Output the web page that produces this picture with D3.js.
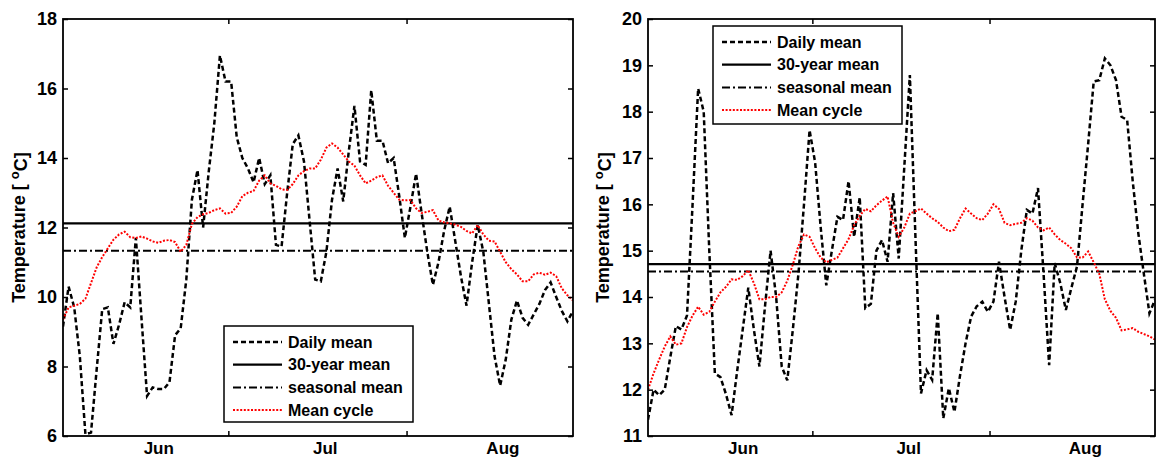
<!DOCTYPE html>
<html><head><meta charset="utf-8">
<script src="https://cdn.jsdelivr.net/npm/d3@7"></script>
<style>
body{margin:0;background:#fff}
svg{display:block;background:#fff}
text{font-family:"Liberation Sans",Arial,Helvetica,sans-serif;font-weight:bold;fill:#000}
</style>
</head><body>
<svg id="chart" width="1156" height="462"></svg>
<script>
// ---------------- data ----------------
const leftDaily = [
 9.15,10.3,9.7,8.3,6.05,6.1,7.9,9.65,9.7,8.65,
 9.2,9.85,9.7,11.7,9.4,7.15,7.4,7.35,7.35,7.55,
 8.9,9.1,10.5,12.8,13.65,12.0,13.6,15.0,16.95,16.2,
 16.2,14.6,14.0,13.7,13.3,14.0,13.25,13.5,11.5,11.45,
 13.0,14.4,14.65,13.9,12.2,10.5,10.45,11.3,12.8,13.7,
 12.75,14.2,15.5,13.9,13.8,15.95,14.5,14.5,13.85,14.0,
 12.9,11.7,12.6,13.55,12.4,11.3,10.35,11.0,11.9,12.6,
 11.6,10.6,9.75,11.0,12.07,11.3,9.8,8.3,7.45,8.2,
 9.35,9.9,9.4,9.2,9.5,9.8,10.2,10.42,10.0,9.6,
 9.3,9.6];
const leftCycle = [
 9.35,9.7,9.75,9.8,9.95,10.4,10.85,11.15,11.4,11.65,
 11.8,11.88,11.72,11.7,11.74,11.68,11.6,11.56,11.62,11.64,
 11.58,11.3,11.5,12.1,12.3,12.38,12.42,12.5,12.55,12.4,
 12.42,12.6,12.9,13.0,13.05,13.35,13.5,13.27,13.2,13.1,
 13.08,13.25,13.5,13.62,13.7,13.7,13.95,14.3,14.42,14.3,
 14.1,13.9,13.78,13.5,13.27,13.35,13.45,13.5,13.2,13.0,
 12.8,12.78,12.79,12.55,12.42,12.45,12.5,12.2,12.15,12.12,
 12.08,12.02,11.9,11.83,12.07,11.8,11.62,11.6,11.3,11.0,
 10.8,10.65,10.45,10.45,10.65,10.7,10.64,10.7,10.6,10.25,
 10.05,9.9];
const leftThirtyYear = 12.12;
const leftSeasonal = 11.33;

const rightDaily = [
 11.35,12.0,11.88,12.0,12.7,13.37,13.3,13.6,16.0,18.5,
 18.0,15.0,12.35,12.27,11.9,11.45,12.4,13.3,14.2,13.3,
 12.5,13.8,15.0,14.0,12.5,12.2,13.3,14.5,16.0,17.6,
 16.9,15.5,14.25,15.0,15.73,15.66,16.5,15.3,16.15,13.76,
 13.85,15.0,15.23,14.76,16.24,14.83,16.8,18.79,15.3,11.92,
 12.42,12.21,13.65,11.38,12.03,11.52,12.3,13.0,13.58,13.8,
 13.9,13.68,13.9,14.76,14.0,13.29,13.9,15.0,15.88,15.8,
 16.35,14.5,12.53,14.73,14.3,13.72,14.2,14.66,16.0,17.3,
 18.65,18.68,19.15,19.0,18.68,17.89,17.82,16.5,15.38,14.5,
 13.65,13.94];
const rightCycle = [
 12.0,12.35,12.65,12.93,13.15,12.97,13.0,13.35,13.6,13.79,
 13.62,13.68,13.9,14.1,14.22,14.38,14.37,14.45,14.58,14.3,
 13.95,13.95,14.0,14.0,14.1,14.35,14.7,15.1,15.35,15.3,
 15.05,14.85,14.75,14.8,14.85,15.05,15.25,15.55,15.75,15.9,
 15.85,15.98,16.08,16.17,15.6,15.3,15.5,15.8,15.85,15.91,
 15.8,15.7,15.62,15.5,15.42,15.45,15.7,15.91,15.8,15.7,
 15.66,15.8,16.0,15.9,15.6,15.55,15.58,15.6,15.7,15.65,
 15.5,15.44,15.5,15.35,15.23,15.15,15.05,14.85,14.85,14.98,
 14.75,14.5,13.95,13.7,13.55,13.28,13.3,13.33,13.25,13.2,
 13.15,13.08];
const rightThirtyYear = 14.71;
const rightSeasonal = 14.55;

const leftYTicks = [6, 8, 10, 12, 14, 16, 18];
const rightYTicks = [11, 12, 13, 14, 15, 16, 17, 18, 19, 20];
const monthLabels = ["Jun", "Jul", "Aug"];
const monthLabelDays = [17, 46.7, 78.4];
const monthTickDays = [29.5, 61.3];
const legendLabels = ["Daily mean", "30-year mean", "seasonal mean", "Mean cycle"];

// ---------------- drawing ----------------
const svg = d3.select("#chart");
const TOP = 19, BOTTOM = 436;
const styles = [
  {stroke: "#000", width: 2.5, dash: "5,3"},
  {stroke: "#000", width: 2.3, dash: null},
  {stroke: "#000", width: 2, dash: "8,3,2,3"},
  {stroke: "#ff0000", width: 2, dash: "2,1.6"}
];

function applyStyle(sel, s) {
  sel.attr("fill", "none").attr("stroke", s.stroke).attr("stroke-width", s.width);
  if (s.dash) sel.attr("stroke-dasharray", s.dash);
  return sel;
}

function drawPanel(o, idx) {
  const days = d3.range(o.daily.length);
  const x = d3.scaleLinear().domain([0, days.length - 1]).range([o.left, o.right]);
  const y = d3.scaleLinear().domain(o.yDomain).range([BOTTOM, TOP]);
  const g = svg.append("g");

  const clipId = "clip" + idx;
  svg.append("clipPath").attr("id", clipId).append("rect")
    .attr("x", o.left).attr("y", TOP).attr("width", o.right - o.left).attr("height", BOTTOM - TOP);
  const plot = g.append("g").attr("clip-path", `url(#${clipId})`);

  const line = d3.line().x((d, i) => x(i)).y(d => y(d));

  applyStyle(plot.append("path").datum(o.daily).attr("d", line), styles[0]);
  applyStyle(plot.append("line")
    .attr("x1", x(0)).attr("x2", x(days.length - 1))
    .attr("y1", y(o.thirty)).attr("y2", y(o.thirty)), styles[1]);
  applyStyle(plot.append("line")
    .attr("x1", x(0)).attr("x2", x(days.length - 1))
    .attr("y1", y(o.seasonal)).attr("y2", y(o.seasonal)), styles[2]);
  applyStyle(plot.append("path").datum(o.cycle).attr("d", line), styles[3]);

  // axes
  const yl = g.append("g").attr("transform", `translate(${o.left},0)`)
    .call(d3.axisLeft(y).tickValues(o.yTicks).tickSizeInner(-5).tickSizeOuter(0).tickPadding(6).tickFormat(d3.format("d")));
  const yr = g.append("g").attr("transform", `translate(${o.right},0)`)
    .call(d3.axisRight(y).tickValues(o.yTicks).tickSizeInner(-5).tickSizeOuter(0).tickFormat(""));
  const xb = g.append("g").attr("transform", `translate(0,${BOTTOM})`)
    .call(d3.axisBottom(x).tickValues(monthTickDays).tickSizeInner(-5).tickSizeOuter(0).tickFormat(""));
  const xt = g.append("g").attr("transform", `translate(0,${TOP})`)
    .call(d3.axisTop(x).tickValues(monthTickDays).tickSizeInner(-5).tickSizeOuter(0).tickFormat(""));
  const xl = g.append("g").attr("transform", `translate(0,${BOTTOM})`)
    .call(d3.axisBottom(x).tickValues(monthLabelDays).tickSize(0).tickPadding(6)
      .tickFormat((d, i) => monthLabels[i]));
  [yl, yr, xb, xt, xl].forEach(a => {
    a.select(".domain").remove();
    a.selectAll(".tick line").attr("stroke", "#000").attr("stroke-width", 1.5);
    a.selectAll("text").attr("fill", "#000");
  });
  yl.selectAll("text").style("font-size", "18px");
  xl.selectAll("text").style("font-size", "17px");

  g.append("rect").attr("x", o.left).attr("y", TOP)
    .attr("width", o.right - o.left).attr("height", BOTTOM - TOP)
    .attr("fill", "none").attr("stroke", "#000").attr("stroke-width", 1.8);

  // y title
  const t = g.append("text")
    .attr("transform", `translate(${o.titleX},${(TOP + BOTTOM) / 2}) rotate(-90)`)
    .attr("text-anchor", "middle").style("font-size", "18px");
  t.append("tspan").text("Temperature [ ");
  t.append("tspan").attr("dy", "-0.45em").style("font-size", "13px").text("o");
  t.append("tspan").attr("dy", "0.45em").text("C]");

  // legend
  const lg = g.append("g").attr("transform", `translate(${o.legX},${o.legY})`);
  lg.append("rect").attr("width", 189).attr("height", o.legH)
    .attr("fill", "#fff").attr("stroke", "#000").attr("stroke-width", 1.5);
  legendLabels.forEach((lab, i) => {
    const yy = 16 + i * 22.7;
    applyStyle(lg.append("line").attr("x1", 9).attr("x2", 58).attr("y1", yy).attr("y2", yy), styles[i]);
    lg.append("text").attr("x", 64).attr("y", yy).attr("dy", "0.36em")
      .style("font-size", "16px").text(lab);
  });
}

drawPanel({left: 63, right: 573, yDomain: [6, 18], yTicks: leftYTicks,
  daily: leftDaily, cycle: leftCycle, thirty: leftThirtyYear, seasonal: leftSeasonal,
  titleX: 25, legX: 224, legY: 326, legH: 96}, 0);
drawPanel({left: 648, right: 1155, yDomain: [11, 20], yTicks: rightYTicks,
  daily: rightDaily, cycle: rightCycle, thirty: rightThirtyYear, seasonal: rightSeasonal,
  titleX: 609, legX: 713, legY: 26, legH: 98}, 1);
</script>
</body></html>
